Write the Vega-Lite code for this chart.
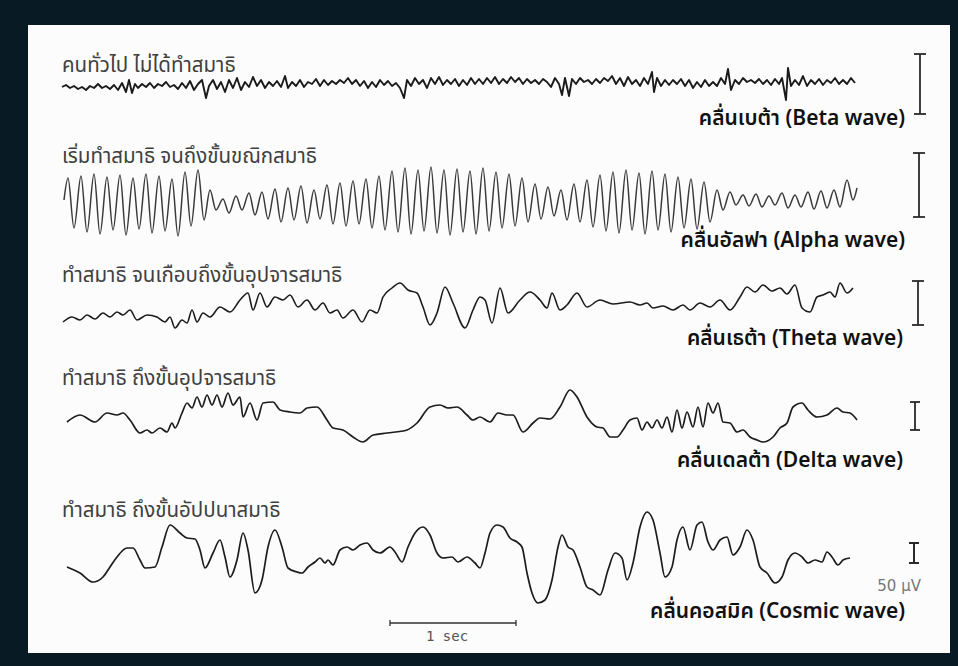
{
  "$schema": "https://vega.github.io/schema/vega-lite/v6.json",
  "background": "#081a24",
  "padding": {"left": 28, "top": 25, "right": 8, "bottom": 13},
  "autosize": {"type": "pad"},
  "spacing": 0,
  "bounds": "flush",
  "config": {"view": {"stroke": null, "fill": "#fcfcfc"}},
  "datasets": {
    "beta": [{"s":2,"a":-1},{"s":6,"a":1},{"s":10,"a":-2},{"s":14,"a":0},{"s":18,"a":-3},{"s":22,"a":-1},{"s":26,"a":-4},{"s":30,"a":0},{"s":34,"a":-2},{"s":38,"a":2},{"s":42,"a":-2},{"s":46,"a":0},{"s":50,"a":-3},{"s":54,"a":1},{"s":58,"a":-4},{"s":62,"a":3},{"s":66,"a":-6},{"s":69,"a":6},{"s":72,"a":-7},{"s":75,"a":2},{"s":78,"a":-2},{"s":82,"a":2},{"s":86,"a":-1},{"s":90,"a":3},{"s":94,"a":-2},{"s":98,"a":2},{"s":102,"a":0},{"s":106,"a":4},{"s":110,"a":-1},{"s":114,"a":1},{"s":118,"a":-3},{"s":122,"a":3},{"s":126,"a":-2},{"s":130,"a":5},{"s":134,"a":-4},{"s":138,"a":2},{"s":142,"a":6},{"s":146,"a":-12},{"s":149,"a":0},{"s":153,"a":6},{"s":157,"a":-3},{"s":161,"a":4},{"s":165,"a":-6},{"s":169,"a":6},{"s":173,"a":-2},{"s":177,"a":8},{"s":181,"a":-4},{"s":185,"a":4},{"s":189,"a":-1},{"s":193,"a":9},{"s":197,"a":0},{"s":201,"a":6},{"s":205,"a":-2},{"s":209,"a":4},{"s":213,"a":0},{"s":217,"a":5},{"s":221,"a":-1},{"s":225,"a":10},{"s":228,"a":-2},{"s":232,"a":4},{"s":236,"a":0},{"s":240,"a":6},{"s":244,"a":-1},{"s":248,"a":4},{"s":252,"a":2},{"s":256,"a":7},{"s":260,"a":0},{"s":264,"a":6},{"s":268,"a":1},{"s":272,"a":5},{"s":276,"a":2},{"s":280,"a":6},{"s":284,"a":3},{"s":288,"a":8},{"s":292,"a":2},{"s":296,"a":6},{"s":300,"a":0},{"s":304,"a":5},{"s":308,"a":-2},{"s":312,"a":4},{"s":316,"a":-1},{"s":320,"a":6},{"s":324,"a":1},{"s":328,"a":5},{"s":332,"a":0},{"s":336,"a":3},{"s":340,"a":-2},{"s":344,"a":-12},{"s":347,"a":6},{"s":351,"a":0},{"s":355,"a":8},{"s":359,"a":2},{"s":363,"a":6},{"s":367,"a":-2},{"s":371,"a":8},{"s":375,"a":2},{"s":379,"a":9},{"s":383,"a":1},{"s":387,"a":6},{"s":391,"a":2},{"s":395,"a":7},{"s":399,"a":0},{"s":403,"a":6},{"s":407,"a":1},{"s":411,"a":8},{"s":415,"a":2},{"s":419,"a":7},{"s":423,"a":2},{"s":427,"a":8},{"s":431,"a":3},{"s":435,"a":9},{"s":439,"a":2},{"s":443,"a":7},{"s":447,"a":3},{"s":451,"a":9},{"s":455,"a":4},{"s":459,"a":8},{"s":463,"a":2},{"s":467,"a":7},{"s":471,"a":3},{"s":475,"a":6},{"s":479,"a":2},{"s":483,"a":7},{"s":487,"a":4},{"s":491,"a":-1},{"s":495,"a":8},{"s":499,"a":2},{"s":502,"a":-9},{"s":505,"a":8},{"s":509,"a":-10},{"s":512,"a":7},{"s":516,"a":2},{"s":520,"a":8},{"s":524,"a":4},{"s":528,"a":6},{"s":532,"a":2},{"s":536,"a":7},{"s":540,"a":3},{"s":544,"a":8},{"s":548,"a":5},{"s":552,"a":10},{"s":556,"a":2},{"s":560,"a":8},{"s":564,"a":0},{"s":568,"a":9},{"s":572,"a":2},{"s":576,"a":6},{"s":580,"a":0},{"s":584,"a":8},{"s":588,"a":2},{"s":592,"a":14},{"s":594,"a":-6},{"s":597,"a":8},{"s":601,"a":0},{"s":605,"a":6},{"s":609,"a":1},{"s":613,"a":6},{"s":617,"a":2},{"s":621,"a":7},{"s":625,"a":0},{"s":629,"a":6},{"s":633,"a":-2},{"s":637,"a":4},{"s":641,"a":-1},{"s":645,"a":6},{"s":649,"a":0},{"s":653,"a":4},{"s":657,"a":0},{"s":661,"a":8},{"s":665,"a":2},{"s":668,"a":17},{"s":671,"a":-4},{"s":675,"a":6},{"s":679,"a":2},{"s":683,"a":8},{"s":687,"a":4},{"s":691,"a":6},{"s":695,"a":3},{"s":699,"a":7},{"s":703,"a":2},{"s":707,"a":6},{"s":711,"a":1},{"s":715,"a":7},{"s":719,"a":2},{"s":722,"a":8},{"s":726,"a":-14},{"s":728,"a":18},{"s":731,"a":0},{"s":735,"a":6},{"s":739,"a":1},{"s":743,"a":10},{"s":747,"a":0},{"s":751,"a":6},{"s":755,"a":2},{"s":759,"a":7},{"s":763,"a":1},{"s":767,"a":6},{"s":771,"a":3},{"s":775,"a":8},{"s":779,"a":2},{"s":783,"a":6},{"s":787,"a":2},{"s":791,"a":8},{"s":795,"a":3}],
    "alpha": [{"s":4,"a":5},{"s":8,"a":27},{"s":14,"a":-23},{"s":21,"a":29},{"s":27,"a":-27},{"s":34,"a":31},{"s":40,"a":-29},{"s":47,"a":28},{"s":53,"a":-25},{"s":60,"a":30},{"s":66,"a":-30},{"s":73,"a":27},{"s":79,"a":-24},{"s":86,"a":31},{"s":92,"a":-28},{"s":99,"a":29},{"s":105,"a":-26},{"s":112,"a":26},{"s":118,"a":-31},{"s":125,"a":33},{"s":131,"a":-21},{"s":138,"a":35},{"s":144,"a":-15},{"s":150,"a":15},{"s":156,"a":-5},{"s":163,"a":6},{"s":169,"a":-8},{"s":176,"a":9},{"s":182,"a":-5},{"s":189,"a":12},{"s":195,"a":-10},{"s":202,"a":13},{"s":208,"a":-14},{"s":215,"a":16},{"s":221,"a":-17},{"s":228,"a":17},{"s":234,"a":-15},{"s":241,"a":19},{"s":247,"a":-18},{"s":254,"a":15},{"s":260,"a":-14},{"s":267,"a":20},{"s":273,"a":-19},{"s":280,"a":22},{"s":286,"a":-21},{"s":293,"a":24},{"s":299,"a":-19},{"s":306,"a":26},{"s":312,"a":-23},{"s":319,"a":29},{"s":325,"a":-25},{"s":332,"a":34},{"s":338,"a":-27},{"s":345,"a":37},{"s":351,"a":-29},{"s":358,"a":35},{"s":364,"a":-26},{"s":371,"a":38},{"s":377,"a":-28},{"s":384,"a":35},{"s":390,"a":-30},{"s":397,"a":36},{"s":403,"a":-27},{"s":410,"a":34},{"s":416,"a":-29},{"s":423,"a":37},{"s":429,"a":-26},{"s":436,"a":33},{"s":442,"a":-23},{"s":449,"a":31},{"s":455,"a":-21},{"s":462,"a":27},{"s":468,"a":-17},{"s":475,"a":21},{"s":481,"a":-14},{"s":488,"a":18},{"s":494,"a":-11},{"s":501,"a":15},{"s":507,"a":-15},{"s":514,"a":21},{"s":520,"a":-17},{"s":527,"a":25},{"s":533,"a":-22},{"s":540,"a":30},{"s":546,"a":-26},{"s":553,"a":33},{"s":559,"a":-28},{"s":566,"a":35},{"s":572,"a":-25},{"s":579,"a":32},{"s":585,"a":-29},{"s":592,"a":34},{"s":598,"a":-25},{"s":605,"a":31},{"s":611,"a":-27},{"s":618,"a":28},{"s":624,"a":-23},{"s":631,"a":26},{"s":637,"a":-24},{"s":644,"a":23},{"s":650,"a":-17},{"s":657,"a":15},{"s":663,"a":-5},{"s":670,"a":13},{"s":676,"a":0},{"s":683,"a":10},{"s":689,"a":-1},{"s":696,"a":11},{"s":702,"a":-2},{"s":709,"a":9},{"s":715,"a":0},{"s":722,"a":12},{"s":728,"a":-3},{"s":735,"a":10},{"s":741,"a":-2},{"s":748,"a":13},{"s":754,"a":-4},{"s":761,"a":14},{"s":767,"a":-3},{"s":774,"a":15},{"s":780,"a":-2},{"s":787,"a":25},{"s":793,"a":5},{"s":797,"a":17}],
    "theta": [{"s":3,"a":-12},{"s":12,"a":-7},{"s":20,"a":-10},{"s":27,"a":-5},{"s":35,"a":-9},{"s":43,"a":-3},{"s":50,"a":-7},{"s":57,"a":-2},{"s":63,"a":-5},{"s":70,"a":0},{"s":77,"a":-10},{"s":87,"a":-5},{"s":97,"a":-7},{"s":105,"a":-12},{"s":110,"a":-7},{"s":115,"a":-18},{"s":122,"a":-10},{"s":127,"a":-13},{"s":132,"a":0},{"s":137,"a":-12},{"s":143,"a":-3},{"s":150,"a":-7},{"s":160,"a":3},{"s":170,"a":-2},{"s":180,"a":10},{"s":188,"a":17},{"s":193,"a":0},{"s":200,"a":17},{"s":207,"a":3},{"s":215,"a":13},{"s":223,"a":10},{"s":230,"a":15},{"s":238,"a":3},{"s":247,"a":10},{"s":255,"a":0},{"s":263,"a":7},{"s":270,"a":-3},{"s":277,"a":0},{"s":283,"a":-8},{"s":293,"a":0},{"s":302,"a":-12},{"s":310,"a":0},{"s":317,"a":-3},{"s":323,"a":13},{"s":332,"a":22},{"s":340,"a":27},{"s":348,"a":20},{"s":357,"a":17},{"s":363,"a":3},{"s":370,"a":-15},{"s":377,"a":-3},{"s":385,"a":23},{"s":393,"a":7},{"s":405,"a":-18},{"s":413,"a":0},{"s":420,"a":13},{"s":425,"a":10},{"s":432,"a":-13},{"s":440,"a":22},{"s":448,"a":-3},{"s":460,"a":10},{"s":470,"a":18},{"s":480,"a":10},{"s":487,"a":2},{"s":492,"a":17},{"s":500,"a":0},{"s":507,"a":5},{"s":517,"a":17},{"s":527,"a":3},{"s":540,"a":10},{"s":553,"a":6},{"s":570,"a":8},{"s":580,"a":5},{"s":587,"a":7},{"s":593,"a":2},{"s":603,"a":4},{"s":613,"a":0},{"s":623,"a":5},{"s":630,"a":0},{"s":640,"a":7},{"s":650,"a":3},{"s":660,"a":10},{"s":670,"a":0},{"s":680,"a":13},{"s":687,"a":23},{"s":695,"a":18},{"s":703,"a":25},{"s":712,"a":19},{"s":720,"a":22},{"s":727,"a":16},{"s":735,"a":25},{"s":742,"a":2},{"s":750,"a":-2},{"s":757,"a":13},{"s":763,"a":15},{"s":770,"a":18},{"s":775,"a":13},{"s":780,"a":27},{"s":787,"a":17},{"s":793,"a":22}],
    "delta": [{"s":7,"a":-2},{"s":20,"a":5},{"s":35,"a":-2},{"s":47,"a":7},{"s":57,"a":5},{"s":63,"a":7},{"s":70,"a":0},{"s":80,"a":-13},{"s":87,"a":-10},{"s":92,"a":-13},{"s":100,"a":-8},{"s":107,"a":-12},{"s":112,"a":-3},{"s":115,"a":-8},{"s":122,"a":7},{"s":127,"a":17},{"s":132,"a":12},{"s":137,"a":23},{"s":142,"a":13},{"s":147,"a":25},{"s":152,"a":15},{"s":157,"a":25},{"s":162,"a":13},{"s":168,"a":27},{"s":173,"a":15},{"s":180,"a":23},{"s":183,"a":3},{"s":190,"a":17},{"s":197,"a":0},{"s":203,"a":17},{"s":213,"a":18},{"s":220,"a":10},{"s":230,"a":8},{"s":240,"a":7},{"s":247,"a":12},{"s":257,"a":13},{"s":267,"a":0},{"s":273,"a":-8},{"s":283,"a":-10},{"s":293,"a":-17},{"s":303,"a":-22},{"s":313,"a":-15},{"s":327,"a":-13},{"s":347,"a":-10},{"s":357,"a":-3},{"s":370,"a":13},{"s":380,"a":15},{"s":388,"a":12},{"s":397,"a":13},{"s":407,"a":5},{"s":413,"a":0},{"s":420,"a":3},{"s":430,"a":-2},{"s":438,"a":7},{"s":447,"a":5},{"s":453,"a":5},{"s":463,"a":-12},{"s":473,"a":-3},{"s":480,"a":2},{"s":490,"a":1},{"s":500,"a":13},{"s":510,"a":30},{"s":517,"a":23},{"s":527,"a":3},{"s":537,"a":-7},{"s":543,"a":-8},{"s":550,"a":-17},{"s":557,"a":-17},{"s":563,"a":-10},{"s":570,"a":0},{"s":577,"a":2},{"s":582,"a":-10},{"s":587,"a":-2},{"s":592,"a":-8},{"s":597,"a":0},{"s":602,"a":-8},{"s":607,"a":3},{"s":612,"a":-12},{"s":617,"a":10},{"s":622,"a":-8},{"s":627,"a":8},{"s":633,"a":-7},{"s":638,"a":13},{"s":643,"a":-7},{"s":648,"a":17},{"s":653,"a":7},{"s":658,"a":17},{"s":663,"a":-2},{"s":670,"a":-3},{"s":677,"a":-12},{"s":683,"a":-10},{"s":690,"a":-17},{"s":697,"a":-20},{"s":703,"a":-22},{"s":713,"a":-17},{"s":720,"a":-8},{"s":727,"a":-3},{"s":733,"a":13},{"s":742,"a":17},{"s":748,"a":10},{"s":757,"a":3},{"s":767,"a":5},{"s":777,"a":12},{"s":783,"a":8},{"s":790,"a":7},{"s":797,"a":0}],
    "cosmic": [{"s":7,"a":-7},{"s":20,"a":-13},{"s":33,"a":-22},{"s":43,"a":-17},{"s":50,"a":-7},{"s":57,"a":3},{"s":67,"a":12},{"s":73,"a":12},{"s":80,"a":0},{"s":85,"a":-8},{"s":95,"a":-7},{"s":102,"a":13},{"s":110,"a":35},{"s":120,"a":27},{"s":127,"a":22},{"s":135,"a":21},{"s":140,"a":10},{"s":145,"a":-8},{"s":153,"a":7},{"s":160,"a":20},{"s":165,"a":3},{"s":170,"a":-17},{"s":177,"a":0},{"s":183,"a":27},{"s":188,"a":10},{"s":195,"a":-33},{"s":202,"a":-20},{"s":208,"a":13},{"s":215,"a":30},{"s":222,"a":13},{"s":228,"a":-8},{"s":237,"a":-12},{"s":242,"a":-13},{"s":248,"a":-7},{"s":255,"a":-2},{"s":260,"a":2},{"s":265,"a":-3},{"s":268,"a":0},{"s":273,"a":-5},{"s":280,"a":10},{"s":287,"a":13},{"s":293,"a":10},{"s":300,"a":15},{"s":307,"a":17},{"s":313,"a":10},{"s":320,"a":7},{"s":330,"a":13},{"s":335,"a":8},{"s":342,"a":-2},{"s":348,"a":13},{"s":355,"a":27},{"s":363,"a":33},{"s":370,"a":25},{"s":377,"a":7},{"s":383,"a":2},{"s":392,"a":3},{"s":398,"a":-2},{"s":407,"a":3},{"s":415,"a":-3},{"s":420,"a":-8},{"s":425,"a":7},{"s":430,"a":27},{"s":437,"a":35},{"s":443,"a":33},{"s":450,"a":22},{"s":457,"a":18},{"s":462,"a":13},{"s":467,"a":-13},{"s":472,"a":-33},{"s":478,"a":-43},{"s":485,"a":-40},{"s":492,"a":-20},{"s":498,"a":13},{"s":502,"a":25},{"s":508,"a":13},{"s":513,"a":10},{"s":520,"a":-7},{"s":527,"a":-27},{"s":533,"a":-30},{"s":540,"a":-35},{"s":548,"a":-10},{"s":555,"a":7},{"s":562,"a":2},{"s":567,"a":-20},{"s":573,"a":-3},{"s":580,"a":33},{"s":587,"a":48},{"s":593,"a":40},{"s":600,"a":7},{"s":605,"a":-17},{"s":612,"a":-7},{"s":617,"a":20},{"s":623,"a":33},{"s":630,"a":10},{"s":637,"a":35},{"s":642,"a":38},{"s":648,"a":18},{"s":653,"a":10},{"s":660,"a":20},{"s":667,"a":23},{"s":673,"a":5},{"s":680,"a":13},{"s":687,"a":30},{"s":693,"a":20},{"s":700,"a":-7},{"s":707,"a":-13},{"s":715,"a":-23},{"s":722,"a":-17},{"s":728,"a":0},{"s":735,"a":7},{"s":742,"a":3},{"s":748,"a":-3},{"s":755,"a":0},{"s":762,"a":-2},{"s":767,"a":8},{"s":772,"a":3},{"s":778,"a":-5},{"s":783,"a":0},{"s":790,"a":2}],
    "rules": [
      {"p":1,"s":860,"a":32,"s2":860,"a2":-28},{"p":1,"s":854,"a":32,"s2":866,"a2":32},{"p":1,"s":854,"a":-28,"s2":866,"a2":-28},
      {"p":2,"s":859,"a":52,"s2":859,"a2":-12},{"p":2,"s":853,"a":52,"s2":865,"a2":52},{"p":2,"s":853,"a":-12,"s2":865,"a2":-12},
      {"p":3,"s":858,"a":29,"s2":858,"a2":-15},{"p":3,"s":852,"a":29,"s2":864,"a2":29},{"p":3,"s":852,"a":-15,"s2":864,"a2":-15},
      {"p":4,"s":855,"a":18,"s2":855,"a2":-10},{"p":4,"s":850,"a":18,"s2":860,"a2":18},{"p":4,"s":850,"a":-10,"s2":860,"a2":-10},
      {"p":5,"s":854,"a":17,"s2":854,"a2":-3},{"p":5,"s":849,"a":17,"s2":859,"a2":17},{"p":5,"s":849,"a":-3,"s2":859,"a2":-3},
      {"p":6,"s":330,"a":-63,"s2":456,"a2":-63},{"p":6,"s":330,"a":-60,"s2":330,"a2":-66},{"p":6,"s":456,"a":-60,"s2":456,"a2":-66}
    ],
    "texts": [
      {"p":1,"k":"title","t":"คนทั่วไป ไม่ได้ทำสมาธิ","s":2,"a":14},
      {"p":1,"k":"label","t":"คลื่นเบต้า (Beta wave)","s":845,"a":-39},
      {"p":2,"k":"title","t":"เริ่มทำสมาธิ จนถึงขั้นขณิกสมาธิ","s":2,"a":42},
      {"p":2,"k":"label","t":"คลื่นอัลฟา (Alpha wave)","s":845,"a":-42},
      {"p":3,"k":"title","t":"ทำสมาธิ จนเกือบถึงขั้นอุปจารสมาธิ","s":2,"a":28},
      {"p":3,"k":"label","t":"คลื่นเธต้า (Theta wave)","s":843,"a":-35},
      {"p":4,"k":"title","t":"ทำสมาธิ ถึงขั้นอุปจารสมาธิ","s":2,"a":35},
      {"p":4,"k":"label","t":"คลื่นเดลต้า (Delta wave)","s":843,"a":-47},
      {"p":5,"k":"title","t":"ทำสมาธิ ถึงขั้นอัปปนาสมาธิ","s":2,"a":43},
      {"p":5,"k":"label","t":"คลื่นคอสมิค (Cosmic wave)","s":845,"a":-58},
      {"p":5,"k":"unit","t":"50 µV","s":861,"a":-31},
      {"p":5,"k":"sec","t":"1 sec","s":387,"a":-81}
    ]
  },
  "vconcat": [
    {
      "width": 922, "height": 115,
      "encoding": {
        "x": {"field": "s", "type": "quantitative", "scale": {"domain": [-32, 890], "nice": false, "zero": false}, "axis": null},
        "y": {"field": "a", "type": "quantitative", "scale": {"domain": [-54, 61], "nice": false, "zero": false}, "axis": null}
      },
      "layer": [
        {"data": {"name": "beta"}, "mark": {"type": "line", "color": "#1a1a1a", "strokeWidth": 1.9, "strokeJoin": "round"}, "encoding": {}},
        {"data": {"name": "rules"}, "transform": [{"filter": "datum.p == 1"}], "mark": {"type": "rule", "color": "#2a2a2a", "strokeWidth": 1.8}, "encoding": {"x2": {"field": "s2"}, "y2": {"field": "a2"}}},
        {"data": {"name": "texts"}, "transform": [{"filter": "datum.p == 1 && datum.k == 'title'"}], "mark": {"type": "text", "align": "left", "baseline": "alphabetic", "font": "Noto Sans Thai, Noto Sans, sans-serif", "fontSize": 20.5, "color": "#404040"}, "encoding": {"text": {"field": "t"}}},
        {"data": {"name": "texts"}, "transform": [{"filter": "datum.p == 1 && datum.k == 'label'"}], "mark": {"type": "text", "align": "right", "baseline": "alphabetic", "font": "Noto Sans Thai, Noto Sans, sans-serif", "fontSize": 21, "fontWeight": 600, "color": "#111111"}, "encoding": {"text": {"field": "t"}}}
      ]
    },
    {
      "width": 922, "height": 118,
      "encoding": {
        "x": {"field": "s", "type": "quantitative", "scale": {"domain": [-32, 890], "nice": false, "zero": false}, "axis": null},
        "y": {"field": "a", "type": "quantitative", "scale": {"domain": [-53, 65], "nice": false, "zero": false}, "axis": null}
      },
      "layer": [
        {"data": {"name": "alpha"}, "mark": {"type": "line", "color": "#3a3a3a", "strokeWidth": 1.5, "interpolate": "monotone"}, "encoding": {}},
        {"data": {"name": "rules"}, "transform": [{"filter": "datum.p == 2"}], "mark": {"type": "rule", "color": "#2a2a2a", "strokeWidth": 1.8}, "encoding": {"x2": {"field": "s2"}, "y2": {"field": "a2"}}},
        {"data": {"name": "texts"}, "transform": [{"filter": "datum.p == 2 && datum.k == 'title'"}], "mark": {"type": "text", "align": "left", "baseline": "alphabetic", "font": "Noto Sans Thai, Noto Sans, sans-serif", "fontSize": 20.5, "color": "#404040"}, "encoding": {"text": {"field": "t"}}},
        {"data": {"name": "texts"}, "transform": [{"filter": "datum.p == 2 && datum.k == 'label'"}], "mark": {"type": "text", "align": "right", "baseline": "alphabetic", "font": "Noto Sans Thai, Noto Sans, sans-serif", "fontSize": 21, "fontWeight": 600, "color": "#111111"}, "encoding": {"text": {"field": "t"}}}
      ]
    },
    {
      "width": 922, "height": 107,
      "encoding": {
        "x": {"field": "s", "type": "quantitative", "scale": {"domain": [-32, 890], "nice": false, "zero": false}, "axis": null},
        "y": {"field": "a", "type": "quantitative", "scale": {"domain": [-55, 52], "nice": false, "zero": false}, "axis": null}
      },
      "layer": [
        {"data": {"name": "theta"}, "mark": {"type": "line", "color": "#1c1c1c", "strokeWidth": 1.6, "interpolate": "monotone"}, "encoding": {}},
        {"data": {"name": "rules"}, "transform": [{"filter": "datum.p == 3"}], "mark": {"type": "rule", "color": "#2a2a2a", "strokeWidth": 1.8}, "encoding": {"x2": {"field": "s2"}, "y2": {"field": "a2"}}},
        {"data": {"name": "texts"}, "transform": [{"filter": "datum.p == 3 && datum.k == 'title'"}], "mark": {"type": "text", "align": "left", "baseline": "alphabetic", "font": "Noto Sans Thai, Noto Sans, sans-serif", "fontSize": 20.5, "color": "#404040"}, "encoding": {"text": {"field": "t"}}},
        {"data": {"name": "texts"}, "transform": [{"filter": "datum.p == 3 && datum.k == 'label'"}], "mark": {"type": "text", "align": "right", "baseline": "alphabetic", "font": "Noto Sans Thai, Noto Sans, sans-serif", "fontSize": 21, "fontWeight": 600, "color": "#111111"}, "encoding": {"text": {"field": "t"}}}
      ]
    },
    {
      "width": 922, "height": 120,
      "encoding": {
        "x": {"field": "s", "type": "quantitative", "scale": {"domain": [-32, 890], "nice": false, "zero": false}, "axis": null},
        "y": {"field": "a", "type": "quantitative", "scale": {"domain": [-65, 55], "nice": false, "zero": false}, "axis": null}
      },
      "layer": [
        {"data": {"name": "delta"}, "mark": {"type": "line", "color": "#1c1c1c", "strokeWidth": 1.7, "interpolate": "monotone"}, "encoding": {}},
        {"data": {"name": "rules"}, "transform": [{"filter": "datum.p == 4"}], "mark": {"type": "rule", "color": "#2a2a2a", "strokeWidth": 1.8}, "encoding": {"x2": {"field": "s2"}, "y2": {"field": "a2"}}},
        {"data": {"name": "texts"}, "transform": [{"filter": "datum.p == 4 && datum.k == 'title'"}], "mark": {"type": "text", "align": "left", "baseline": "alphabetic", "font": "Noto Sans Thai, Noto Sans, sans-serif", "fontSize": 20.5, "color": "#404040"}, "encoding": {"text": {"field": "t"}}},
        {"data": {"name": "texts"}, "transform": [{"filter": "datum.p == 4 && datum.k == 'label'"}], "mark": {"type": "text", "align": "right", "baseline": "alphabetic", "font": "Noto Sans Thai, Noto Sans, sans-serif", "fontSize": 21, "fontWeight": 600, "color": "#111111"}, "encoding": {"text": {"field": "t"}}}
      ]
    },
    {
      "width": 922, "height": 168,
      "encoding": {
        "x": {"field": "s", "type": "quantitative", "scale": {"domain": [-32, 890], "nice": false, "zero": false}, "axis": null},
        "y": {"field": "a", "type": "quantitative", "scale": {"domain": [-93, 75], "nice": false, "zero": false}, "axis": null}
      },
      "layer": [
        {"data": {"name": "cosmic"}, "mark": {"type": "line", "color": "#1c1c1c", "strokeWidth": 1.7, "interpolate": "monotone"}, "encoding": {}},
        {"data": {"name": "rules"}, "transform": [{"filter": "datum.p == 5"}], "mark": {"type": "rule", "color": "#2a2a2a", "strokeWidth": 2}, "encoding": {"x2": {"field": "s2"}, "y2": {"field": "a2"}}},
        {"data": {"name": "rules"}, "transform": [{"filter": "datum.p == 6"}], "mark": {"type": "rule", "color": "#333333", "strokeWidth": 1.3}, "encoding": {"x2": {"field": "s2"}, "y2": {"field": "a2"}}},
        {"data": {"name": "texts"}, "transform": [{"filter": "datum.p == 5 && datum.k == 'title'"}], "mark": {"type": "text", "align": "left", "baseline": "alphabetic", "font": "Noto Sans Thai, Noto Sans, sans-serif", "fontSize": 20.5, "color": "#404040"}, "encoding": {"text": {"field": "t"}}},
        {"data": {"name": "texts"}, "transform": [{"filter": "datum.p == 5 && datum.k == 'label'"}], "mark": {"type": "text", "align": "right", "baseline": "alphabetic", "font": "Noto Sans Thai, Noto Sans, sans-serif", "fontSize": 21, "fontWeight": 600, "color": "#111111"}, "encoding": {"text": {"field": "t"}}},
        {"data": {"name": "texts"}, "transform": [{"filter": "datum.p == 5 && datum.k == 'unit'"}], "mark": {"type": "text", "align": "right", "baseline": "alphabetic", "font": "DejaVu Sans", "fontSize": 15, "color": "#777777"}, "encoding": {"text": {"field": "t"}}},
        {"data": {"name": "texts"}, "transform": [{"filter": "datum.p == 5 && datum.k == 'sec'"}], "mark": {"type": "text", "align": "center", "baseline": "alphabetic", "font": "DejaVu Sans Mono", "fontSize": 14, "color": "#555555"}, "encoding": {"text": {"field": "t"}}}
      ]
    }
  ]
}
